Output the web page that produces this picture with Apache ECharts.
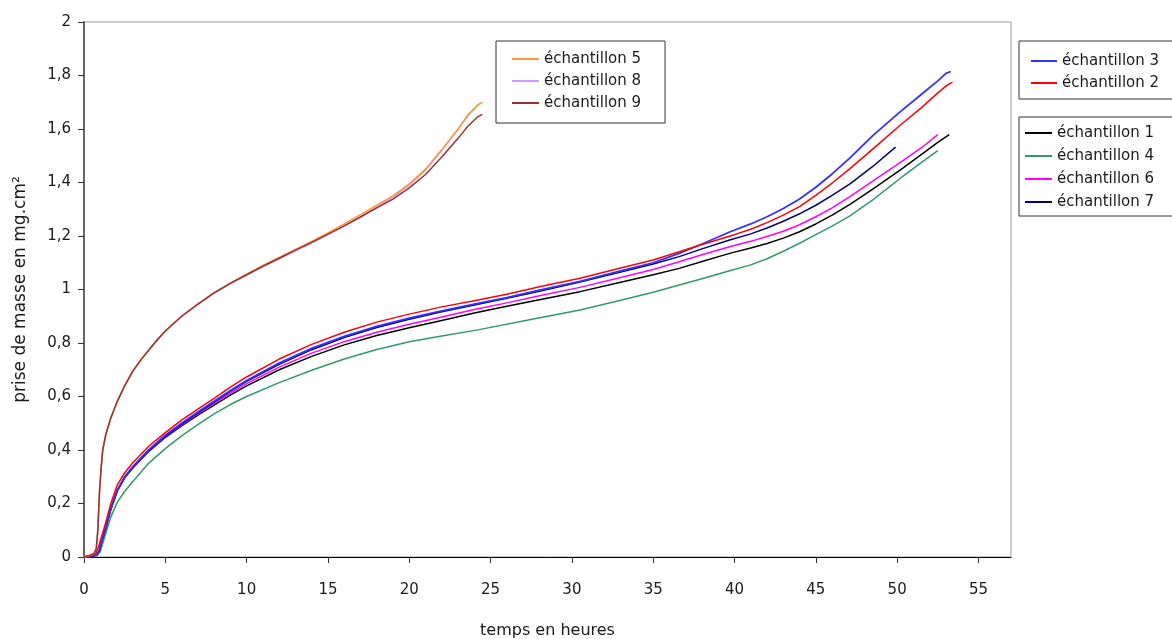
<!DOCTYPE html>
<html>
<head>
<meta charset="utf-8">
<script src="https://cdn.jsdelivr.net/npm/echarts@6/dist/echarts.min.js"></script>
<style>
html,body{margin:0;padding:0;background:#fff;}
#main{width:1172px;height:639px;}
</style>
</head>
<body>
<div id="main"></div>
<script>
// x: temps en heures, y: prise de masse en mg.cm²
const xTicks = [0,5,10,15,20,25,30,35,40,45,50,55];
const yTicks = [0,0.2,0.4,0.6,0.8,1,1.2,1.4,1.6,1.8,2];

const ech5 = [[0,0],[0.3,0.005],[0.6,0.012],[0.75,0.03],[0.85,0.1],[0.95,0.24],[1.05,0.33],[1.15,0.4],[1.35,0.46],[1.65,0.52],[2,0.575],[2.5,0.64],[3,0.695],[3.5,0.738],[4,0.775],[4.5,0.812],[5,0.845],[6,0.9],[7,0.945],[8,0.988],[9,1.025],[10,1.057],[11,1.09],[12,1.12],[13,1.15],[14,1.18],[15,1.212],[16,1.245],[17,1.28],[18,1.315],[19,1.35],[20,1.395],[21,1.45],[22,1.523],[23,1.6],[23.6,1.652],[24.2,1.69],[24.5,1.7]];
const ech8 = [[0,0],[0.3,0.005],[0.6,0.012],[0.75,0.03],[0.85,0.1],[0.95,0.24],[1.05,0.33],[1.15,0.4],[1.35,0.46],[1.65,0.52],[2,0.575],[2.5,0.64],[3,0.695],[3.5,0.737],[4,0.774],[4.5,0.811],[5,0.844],[6,0.899],[7,0.944],[8,0.986],[9,1.022],[10,1.054],[11,1.086],[12,1.115],[13,1.145],[14,1.174],[15,1.205],[16,1.238],[17,1.272],[18,1.308],[19,1.345],[20,1.39],[21,1.446],[22,1.52],[23,1.598],[23.6,1.65],[24.2,1.688],[24.4,1.697]];
const ech9 = [[0,0],[0.3,0.005],[0.6,0.012],[0.75,0.03],[0.85,0.1],[0.95,0.24],[1.05,0.33],[1.15,0.4],[1.35,0.46],[1.65,0.52],[2,0.575],[2.5,0.64],[3,0.695],[3.5,0.737],[4,0.775],[4.5,0.811],[5,0.845],[6,0.9],[7,0.945],[8,0.987],[9,1.023],[10,1.055],[11,1.087],[12,1.117],[13,1.147],[14,1.176],[15,1.207],[16,1.238],[17,1.271],[18,1.305],[19,1.338],[20,1.38],[21,1.43],[22,1.495],[23,1.565],[23.6,1.61],[24.2,1.645],[24.5,1.655]];
const ech3 = [[0,0],[0.5,0.003],[0.8,0.008],[0.95,0.025],[1.1,0.06],[1.3,0.1],[1.65,0.18],[2.05,0.25],[2.5,0.3],[3,0.338],[4,0.402],[5,0.455],[6,0.5],[7,0.542],[8,0.582],[9,0.622],[10,0.66],[12,0.725],[14,0.78],[16,0.825],[18,0.862],[20,0.893],[22,0.92],[24,0.945],[26,0.97],[28,0.998],[30.5,1.03],[33,1.07],[35,1.1],[36.6,1.135],[38,1.17],[39.7,1.215],[41,1.245],[42,1.272],[43,1.303],[44,1.338],[45,1.382],[46,1.432],[47.1,1.492],[48.5,1.575],[50.2,1.665],[51.5,1.73],[52.5,1.78],[53,1.808],[53.3,1.815]];
const ech2 = [[0,0],[0.4,0.004],[0.7,0.01],[0.85,0.03],[1,0.06],[1.25,0.11],[1.65,0.2],[2.05,0.27],[2.5,0.315],[3,0.352],[4,0.415],[5,0.465],[6,0.512],[7,0.553],[8,0.593],[9,0.635],[10,0.673],[12,0.74],[14,0.795],[16,0.84],[18,0.878],[20,0.908],[22,0.935],[24,0.958],[26,0.982],[28,1.01],[30.5,1.042],[33,1.08],[35,1.11],[36.6,1.141],[38,1.168],[40,1.205],[41,1.225],[42,1.25],[43,1.278],[44,1.31],[45,1.352],[46,1.398],[47.1,1.452],[48.5,1.525],[50.2,1.615],[51.5,1.68],[52.5,1.735],[53.1,1.765],[53.4,1.775]];
const ech1 = [[0,0],[0.5,0.003],[0.8,0.008],[0.95,0.025],[1.1,0.06],[1.3,0.1],[1.65,0.18],[2.05,0.248],[2.5,0.296],[3,0.333],[4,0.396],[5,0.447],[6,0.49],[7,0.53],[8,0.568],[9,0.605],[10,0.64],[12,0.7],[14,0.75],[16,0.793],[18,0.828],[20,0.857],[22,0.884],[24,0.912],[26,0.937],[28,0.962],[30.5,0.992],[33,1.027],[35,1.055],[36.6,1.079],[38,1.105],[39.7,1.135],[41,1.155],[42,1.172],[43,1.192],[44,1.216],[45,1.245],[46,1.278],[47.1,1.318],[48.5,1.375],[50.2,1.447],[51.5,1.505],[52.5,1.55],[53.2,1.579]];
const ech4 = [[0,0],[0.5,0.003],[0.8,0.006],[1,0.02],[1.25,0.07],[1.65,0.15],[2.05,0.205],[2.5,0.245],[3,0.282],[4,0.352],[5,0.405],[6,0.453],[7,0.495],[8,0.535],[9,0.57],[10,0.6],[12,0.652],[14,0.698],[16,0.74],[18,0.776],[20,0.805],[22,0.826],[24.3,0.85],[27,0.882],[30.5,0.923],[33,0.96],[35,0.99],[36.6,1.017],[38,1.04],[39.7,1.07],[41,1.092],[42,1.115],[43,1.143],[44,1.173],[45,1.205],[46,1.237],[47.1,1.275],[48.5,1.335],[50.2,1.416],[51.5,1.475],[52.5,1.519]];
const ech6 = [[0,0],[0.5,0.003],[0.8,0.008],[0.95,0.025],[1.1,0.06],[1.3,0.1],[1.65,0.18],[2.05,0.25],[2.5,0.298],[3,0.335],[4,0.398],[5,0.45],[6,0.494],[7,0.535],[8,0.574],[9,0.612],[10,0.648],[12,0.71],[14,0.762],[16,0.805],[18,0.84],[20,0.87],[22,0.897],[24,0.925],[26,0.95],[28,0.977],[30.5,1.008],[33,1.045],[35,1.075],[36.6,1.104],[38,1.13],[39.7,1.16],[41,1.18],[42,1.198],[43,1.218],[44,1.242],[45,1.272],[46,1.305],[47.1,1.347],[48.5,1.405],[50.2,1.475],[51.5,1.53],[52.5,1.579]];
const ech7 = [[0,0],[0.5,0.003],[0.8,0.008],[0.95,0.025],[1.1,0.06],[1.3,0.1],[1.65,0.178],[2.05,0.248],[2.5,0.298],[3,0.336],[4,0.4],[5,0.452],[6,0.497],[7,0.539],[8,0.579],[9,0.619],[10,0.657],[12,0.72],[14,0.775],[16,0.82],[18,0.858],[20,0.889],[22,0.917],[24,0.942],[26,0.967],[28,0.993],[30.5,1.028],[33,1.065],[35,1.095],[36.6,1.123],[38,1.152],[39.7,1.185],[41,1.208],[42,1.23],[43,1.255],[44,1.283],[45,1.315],[46,1.352],[47.1,1.395],[48.5,1.46],[49.9,1.532]];

const names = {
  e1:'échantillon 1', e2:'échantillon 2', e3:'échantillon 3', e4:'échantillon 4',
  e5:'échantillon 5', e6:'échantillon 6', e7:'échantillon 7', e8:'échantillon 8', e9:'échantillon 9'
};
const colors = {
  e1:'#000000', e2:'#FF0000', e3:'#3030FF', e4:'#339966', e5:'#FF9933',
  e6:'#FF00FF', e7:'#000080', e8:'#CC99FF', e9:'#993333'
};

const FONT = 'DejaVu Sans';
const TXT = '#1a1a1a';

function mkSeries(key, data, width){
  return {
    name: names[key], type:'line', data: data, showSymbol:false, symbol:'none',
    smooth: false,
    lineStyle:{color: colors[key], width: width || 1.5, join:'round'},
    itemStyle:{color: colors[key]},
    emphasis:{disabled:true}
  };
}

function mkLegend(list, left, top, gap, pad, lineW){
  return {
    orient:'vertical', left:left, top:top, itemGap:gap, padding:pad,
    borderColor:'#333', borderWidth:1, backgroundColor:'#fff',
    itemWidth: lineW, itemHeight: 2, icon:'rect',
    textStyle:{fontFamily:FONT, fontSize:15, color:TXT, lineHeight:18},
    data: list.map(k => ({name:names[k], icon:'rect', itemStyle:{color:colors[k]}})),
    selectedMode:false
  };
}

const chart = echarts.init(document.getElementById('main'), null, {renderer:'canvas'});
chart.setOption({
  animation:false,
  backgroundColor:'#fff',
  grid:{left:84, top:22, right:161, bottom:82, show:true, borderColor:'#999', borderWidth:1,
        containLabel:false, outerBoundsMode:'none'},
  xAxis:{
    type:'value', min:0, max:57, interval:5,
    name:'temps en heures', nameLocation:'middle', nameGap:66,
    nameTextStyle:{fontFamily:FONT, fontSize:16, color:TXT},
    axisLine:{onZero:false, lineStyle:{color:'#000', width:1}},
    axisTick:{length:6, customValues:xTicks, lineStyle:{color:'#333'}},
    axisLabel:{customValues:xTicks, margin:26, fontFamily:FONT, fontSize:15, color:TXT},
    splitLine:{show:false}
  },
  yAxis:{
    type:'value', min:0, max:2, interval:0.2,
    name:'prise de masse en mg.cm²', nameLocation:'middle', nameGap:55,
    nameTextStyle:{fontFamily:FONT, fontSize:17, color:TXT},
    axisLine:{show:true, lineStyle:{color:'#666', width:2}},
    axisTick:{show:true, length:6, lineStyle:{color:'#333'}},
    axisLabel:{margin:13, fontFamily:FONT, fontSize:15, color:TXT,
      formatter: v => { const s = (Math.round(v*10)/10).toString(); return s.replace('.', ','); }},
    splitLine:{show:false}
  },
  legend:[
    mkLegend(['e5','e8','e9'], 496, 41, 4, [9,24,11,16], 27),
    mkLegend(['e3','e2'], 1019, 41, 4, [11,40,7,12], 26),
    mkLegend(['e1','e4','e6','e7'], 1019, 117, 5, [7,40,5,6], 27)
  ],
  series:[
    mkSeries('e4', ech4),
    mkSeries('e1', ech1),
    mkSeries('e6', ech6),
    mkSeries('e7', ech7),
    mkSeries('e3', ech3, 1.8),
    mkSeries('e2', ech2),
    mkSeries('e8', ech8),
    mkSeries('e5', ech5),
    mkSeries('e9', ech9)
  ]
});
</script>
</body>
</html>
